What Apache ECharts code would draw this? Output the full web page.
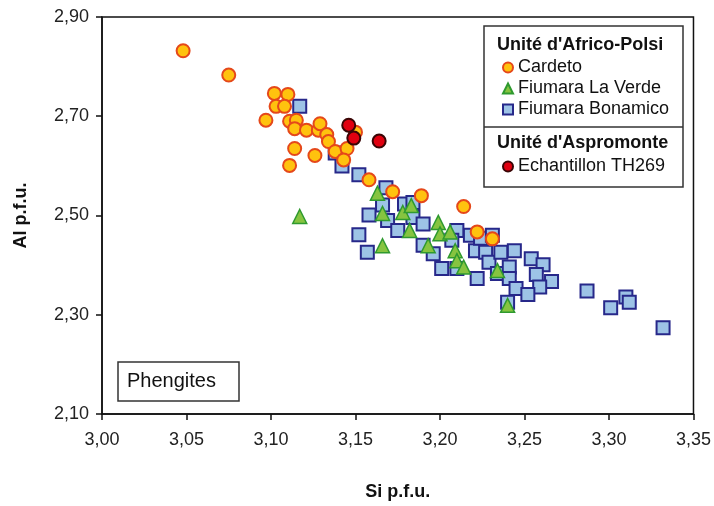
<!DOCTYPE html>
<html>
<head>
<meta charset="utf-8">
<script src="https://cdn.jsdelivr.net/npm/echarts@6/dist/echarts.min.js"></script>
<style>
html, body { margin: 0; padding: 0; background: #fff; }
#main { width: 714px; height: 506px; }
</style>
</head>
<body>
<div id="main"></div>
<script>
// ticks
var xTicks = [3.00, 3.05, 3.10, 3.15, 3.20, 3.25, 3.30, 3.35];
var yTicks = [2.10, 2.30, 2.50, 2.70, 2.90];

// [Si, Al] per analyse
var cardeto = [
    [3.048, 2.832], [3.075, 2.783], [3.102, 2.746], [3.110, 2.744], [3.103, 2.720],
    [3.108, 2.720], [3.097, 2.692], [3.111, 2.690], [3.115, 2.692], [3.114, 2.675],
    [3.121, 2.672], [3.128, 2.672], [3.129, 2.685], [3.133, 2.663], [3.134, 2.649],
    [3.138, 2.629], [3.145, 2.635], [3.143, 2.612], [3.114, 2.635], [3.126, 2.621],
    [3.111, 2.601], [3.150, 2.668], [3.158, 2.572], [3.172, 2.548], [3.189, 2.540],
    [3.214, 2.518], [3.222, 2.467], [3.231, 2.453]
];
var laVerde = [
    [3.117, 2.498], [3.163, 2.545], [3.166, 2.504], [3.166, 2.439], [3.178, 2.506],
    [3.183, 2.520], [3.182, 2.470], [3.193, 2.439], [3.199, 2.486], [3.200, 2.463],
    [3.206, 2.467], [3.209, 2.429], [3.210, 2.409], [3.214, 2.396], [3.234, 2.389],
    [3.240, 2.319]
];
var bonamico = [
    [3.117, 2.720], [3.138, 2.626], [3.142, 2.600], [3.152, 2.582], [3.168, 2.556],
    [3.166, 2.521], [3.158, 2.501], [3.152, 2.461], [3.157, 2.426], [3.169, 2.490],
    [3.175, 2.470], [3.179, 2.523], [3.184, 2.526], [3.184, 2.496], [3.190, 2.483],
    [3.190, 2.440], [3.196, 2.423], [3.201, 2.393], [3.210, 2.470], [3.207, 2.450],
    [3.210, 2.393], [3.218, 2.460], [3.221, 2.429], [3.224, 2.454], [3.227, 2.426],
    [3.229, 2.406], [3.222, 2.373], [3.231, 2.460], [3.236, 2.426], [3.234, 2.383],
    [3.244, 2.429], [3.241, 2.396], [3.241, 2.373], [3.245, 2.353], [3.240, 2.325],
    [3.254, 2.413], [3.261, 2.401], [3.257, 2.381], [3.266, 2.367], [3.259, 2.356],
    [3.252, 2.341], [3.287, 2.348], [3.301, 2.314], [3.310, 2.336], [3.312, 2.325],
    [3.332, 2.274]
];
var th269 = [[3.146, 2.682], [3.149, 2.656], [3.164, 2.650]];

var FONT = '"Liberation Sans", Arial, sans-serif';

function fmt(v) {
    return v.toFixed(2).replace('.', ',');
}

var chart = echarts.init(document.getElementById('main'));

chart.setOption({
    backgroundColor: '#fff',
    animation: false,
    textStyle: { fontFamily: FONT, color: '#111' },
    grid: {
        left: 102, right: 20, top: 17, bottom: 90,
        show: true, borderColor: '#111', borderWidth: 1.5, backgroundColor: 'transparent'
    },
    xAxis: {
        type: 'value', min: 3.0, max: 3.35,
        name: 'Si p.f.u.', nameLocation: 'middle', nameGap: 69,
        nameTextStyle: { fontFamily: FONT, fontWeight: 'bold', fontSize: 18, color: '#111' },
        axisLine: { lineStyle: { color: '#111', width: 1.5 } },
        axisTick: { show: true, inside: false, length: 6, customValues: xTicks, lineStyle: { color: '#111', width: 1.5 } },
        axisLabel: { customValues: xTicks, formatter: fmt, margin: 17, fontSize: 18, color: '#222', fontFamily: FONT },
        splitLine: { show: false }
    },
    yAxis: {
        type: 'value', min: 2.1, max: 2.9,
        name: 'Al p.f.u.', nameLocation: 'middle', nameGap: 72, nameRotate: 90,
        nameTextStyle: { fontFamily: FONT, fontWeight: 'bold', fontSize: 18, color: '#111' },
        axisLine: { lineStyle: { color: '#111', width: 1.5 } },
        axisTick: { show: true, inside: false, length: 6, customValues: yTicks, lineStyle: { color: '#111', width: 1.5 } },
        axisLabel: { customValues: yTicks, formatter: fmt, margin: 13, fontSize: 18, color: '#222', fontFamily: FONT },
        splitLine: { show: false }
    },
    legend: [{
        data: ['Cardeto', 'Fiumara La Verde', 'Fiumara Bonamico'],
        orient: 'vertical', left: 502, top: 57,
        itemWidth: 10, itemHeight: 10, itemGap: 0, padding: 0,
        textStyle: { fontFamily: FONT, fontSize: 18, color: '#111', lineHeight: 21 }
    }, {
        data: ['Echantillon TH269'],
        orient: 'vertical', left: 502, top: 156,
        itemWidth: 10, itemHeight: 10, itemGap: 0, padding: 0,
        textStyle: { fontFamily: FONT, fontSize: 18, color: '#111', lineHeight: 21 }
    }],
    graphic: [
        { type: 'rect', shape: { x: 484, y: 26, width: 199, height: 161 },
          style: { fill: '#fff', stroke: '#333', lineWidth: 1.5 }, z: -1 },
        { type: 'line', shape: { x1: 484, y1: 127, x2: 683, y2: 127 },
          style: { stroke: '#333', lineWidth: 1.5 } },
        { type: 'text', left: 497, top: 36,
          style: { text: "Unité d'Africo-Polsi", font: 'bold 18px ' + FONT, fill: '#111' } },
        { type: 'text', left: 497, top: 134,
          style: { text: "Unité d'Aspromonte", font: 'bold 18px ' + FONT, fill: '#111' } },
        { type: 'rect', shape: { x: 118, y: 362, width: 121, height: 39 },
          style: { fill: '#fff', stroke: '#333', lineWidth: 1.5 } },
        { type: 'text', left: 127, top: 371,
          style: { text: 'Phengites', font: '20px ' + FONT, fill: '#111' } }
    ],
    series: [{
        name: 'Fiumara Bonamico', type: 'scatter', data: bonamico,
        symbol: 'rect', symbolSize: 13,
        itemStyle: { color: '#9dc3e6', borderColor: '#27288a', borderWidth: 2, opacity: 1 }
    }, {
        name: 'Fiumara La Verde', type: 'scatter', data: laVerde,
        symbol: 'triangle', symbolSize: 14,
        itemStyle: { color: '#86c440', borderColor: '#2f9a2f', borderWidth: 1.5, opacity: 1 }
    }, {
        name: 'Cardeto', type: 'scatter', data: cardeto,
        symbol: 'circle', symbolSize: 13,
        itemStyle: { color: '#ffc20e', borderColor: '#e5481a', borderWidth: 2, opacity: 1 }
    }, {
        name: 'Echantillon TH269', type: 'scatter', data: th269,
        symbol: 'circle', symbolSize: 13,
        itemStyle: { color: '#e00010', borderColor: '#3a0505', borderWidth: 2, opacity: 1 }
    }]
});
</script>
</body>
</html>
